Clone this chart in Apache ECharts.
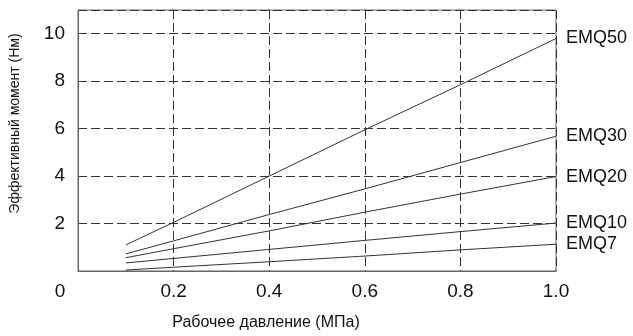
<!DOCTYPE html>
<html>
<head>
<meta charset="utf-8">
<script src="https://cdn.jsdelivr.net/npm/echarts@6/dist/echarts.min.js"></script>
<style>
  html, body { margin: 0; padding: 0; background: #fff; }
  #chart { width: 633px; height: 336px; }
</style>
</head>
<body>
<div id="chart"></div>
<script>
// pressure points (MPa)
var pressure = [0.1, 0.2, 0.4, 0.6, 0.8, 1.0];

// effective torque (Nm)
var emq50 = [1.1, 2.05, 4.0, 5.95, 7.85, 9.8];
var emq30 = [0.72, 1.27, 2.38, 3.46, 4.57, 5.68];
var emq20 = [0.56, 0.94, 1.69, 2.48, 3.24, 3.98];
var emq10 = [0.34, 0.53, 0.91, 1.29, 1.66, 2.02];
var emq7 = [0.04, 0.16, 0.39, 0.63, 0.89, 1.13];

var seriesNames = ['EMQ50', 'EMQ30', 'EMQ20', 'EMQ10', 'EMQ7'];
var seriesData = [emq50, emq30, emq20, emq10, emq7];

var xTicks = [0, 0.2, 0.4, 0.6, 0.8, 1.0];
var yTicks = [0, 2, 4, 6, 8, 10];

var chart = echarts.init(document.getElementById('chart'));
var font = '"Liberation Sans", Arial, sans-serif';

function pairs(ys) {
  return ys.map(function (v, i) { return [pressure[i], v]; });
}

var option = {
  animation: false,
  textStyle: { fontFamily: font },
  grid: {
    left: 77,
    right: 77,
    top: 10,
    bottom: 62,
    show: true,
    borderColor: '#666',
    borderWidth: 1
  },
  xAxis: {
    type: 'value',
    min: 0,
    max: 1,
    interval: 0.2,
    name: 'Рабочее давление (МПа)',
    nameLocation: 'middle',
    nameGap: 44,
    nameTextStyle: { color: '#111', fontSize: 16, padding: [0, 102, 0, 0] },
    axisLine: { show: true, lineStyle: { color: '#666', width: 1 } },
    axisTick: { show: false },
    axisLabel: {
      color: '#111',
      fontSize: 19,
      margin: 11,
      formatter: function (v) {
        if (v === 0) return '{z|0}';
        return v.toFixed(1);
      },
      rich: { z: { fontSize: 19, color: '#111', padding: [0, 36, 0, 0] } }
    },
    splitLine: {
      show: true,
      lineStyle: { color: '#333', type: [9, 4], width: 1 }
    }
  },
  yAxis: {
    type: 'value',
    min: 0,
    max: 11,
    interval: 2,
    name: 'Эффективный момент (Нм)',
    nameLocation: 'middle',
    nameGap: 56,
    nameTextStyle: { color: '#111', fontSize: 14, padding: [0, 0, 0, 34] },
    axisLine: { show: true, lineStyle: { color: '#666', width: 1 } },
    axisTick: { show: false },
    axisLabel: {
      color: '#111',
      fontSize: 19,
      margin: 13,
      formatter: function (v) {
        return (yTicks.indexOf(v) > 0) ? String(v) : '';
      }
    },
    splitLine: {
      show: true,
      lineStyle: { color: '#333', type: [9, 4], width: 1 }
    }
  },
  series: seriesNames.map(function (name, i) {
    return {
      name: name,
      type: 'line',
      data: pairs(seriesData[i]),
      showSymbol: false,
      symbol: 'none',
      lineStyle: { color: '#333', width: 1 },
      endLabel: {
        show: true,
        formatter: '{a}',
        color: '#111',
        fontSize: 18,
        distance: 10
      },
      z: 3
    };
  })
};

chart.setOption(option);
window.addEventListener('resize', function () {
  chart.resize();
});
</script>
</body>
</html>
